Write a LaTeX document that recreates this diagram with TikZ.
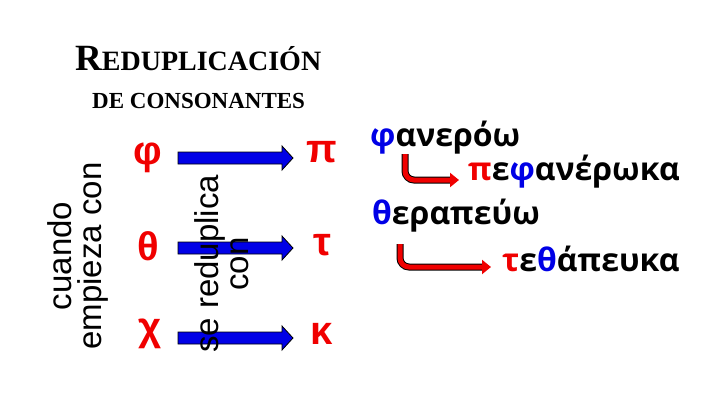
\documentclass[tikz,border=0pt]{standalone}
\usepackage{fontspec}
\setmainfont{Liberation Serif}
\newfontfamily\gsans{Open Sans}
\newfontfamily\asans{Liberation Sans}
\usetikzlibrary{arrows.meta}
\definecolor{gred}{RGB}{240,0,0}
\definecolor{gblue}{RGB}{0,0,230}
\begin{document}
\begin{tikzpicture}[x=1pt,y=-1pt,
  cons/.style={text=gred,font=\asans\bfseries\fontsize{40}{40}\selectfont,inner sep=0},
  side/.style={font=\asans\fontsize{33}{30}\selectfont,align=center,rotate=90,inner sep=0},
  word/.style={font=\gsans\bfseries\fontsize{32}{34}\selectfont,anchor=west,inner sep=0},
  bluearrow/.style={fill=gblue,draw=black,line width=0.8},
  redhook/.style={line width=5,draw=gred,-{Triangle[length=9,width=14]},rounded corners=9}]
\useasboundingbox (0,0) rectangle (720,405);
\node[anchor=base west,inner sep=0,font=\bfseries] (title) at (75,70) {\fontsize{37}{37}\selectfont R\fontsize{28}{28}\selectfont EDUPLICACIÓN};
\node[anchor=base west,inner sep=0,font=\bfseries\fontsize{23}{23}\selectfont] (sub) at (92,108) {DE CONSONANTES};
\node[side] (cuando) at (78,256) {cuando\\empieza con};
\node[cons] (phi) at (148,158) {φ};
\node[cons] (theta) at (148,246) {θ};
\node[cons] (chi) at (150,334) {χ};
\node[cons] (pi) at (322,152) {π};
\node[cons] (tau) at (322,245) {τ};
\node[cons] (kap) at (322,334) {κ};
\foreach \y in {158,248,338}{
  \draw[bluearrow] (178,\y-6) -- (282,\y-6) -- (282,\y-12) -- (293,\y) -- (282,\y+12) -- (282,\y+6) -- (178,\y+6) -- cycle;}
\node[side] (redu) at (222,264) {se reduplica\\con};
\node[word] (w1) at (370,138) {\textcolor{gblue}{φ}ανερόω};
\node[word] (w2) at (468,172) {\textcolor{gred}{π}ε\textcolor{gblue}{φ}ανέρωκα};
\node[word] (w3) at (372,216) {\textcolor{gblue}{θ}εραπεύω};
\node[word] (w4) at (502,259) {\textcolor{gred}{τ}ε\textcolor{gblue}{θ}άπευκα};
\coordinate (a1) at (405,154); \coordinate (b1) at (459,180);
\coordinate (a2) at (400,244); \coordinate (b2) at (491,267);
\draw[line width=7,draw=black,rounded corners=9] (a1) |- (453,180);
\draw[redhook] (a1) |- (b1);
\draw[line width=7,draw=black,rounded corners=9] (a2) |- (485,267);
\draw[redhook] (a2) |- (b2);
\end{tikzpicture}
\end{document}
